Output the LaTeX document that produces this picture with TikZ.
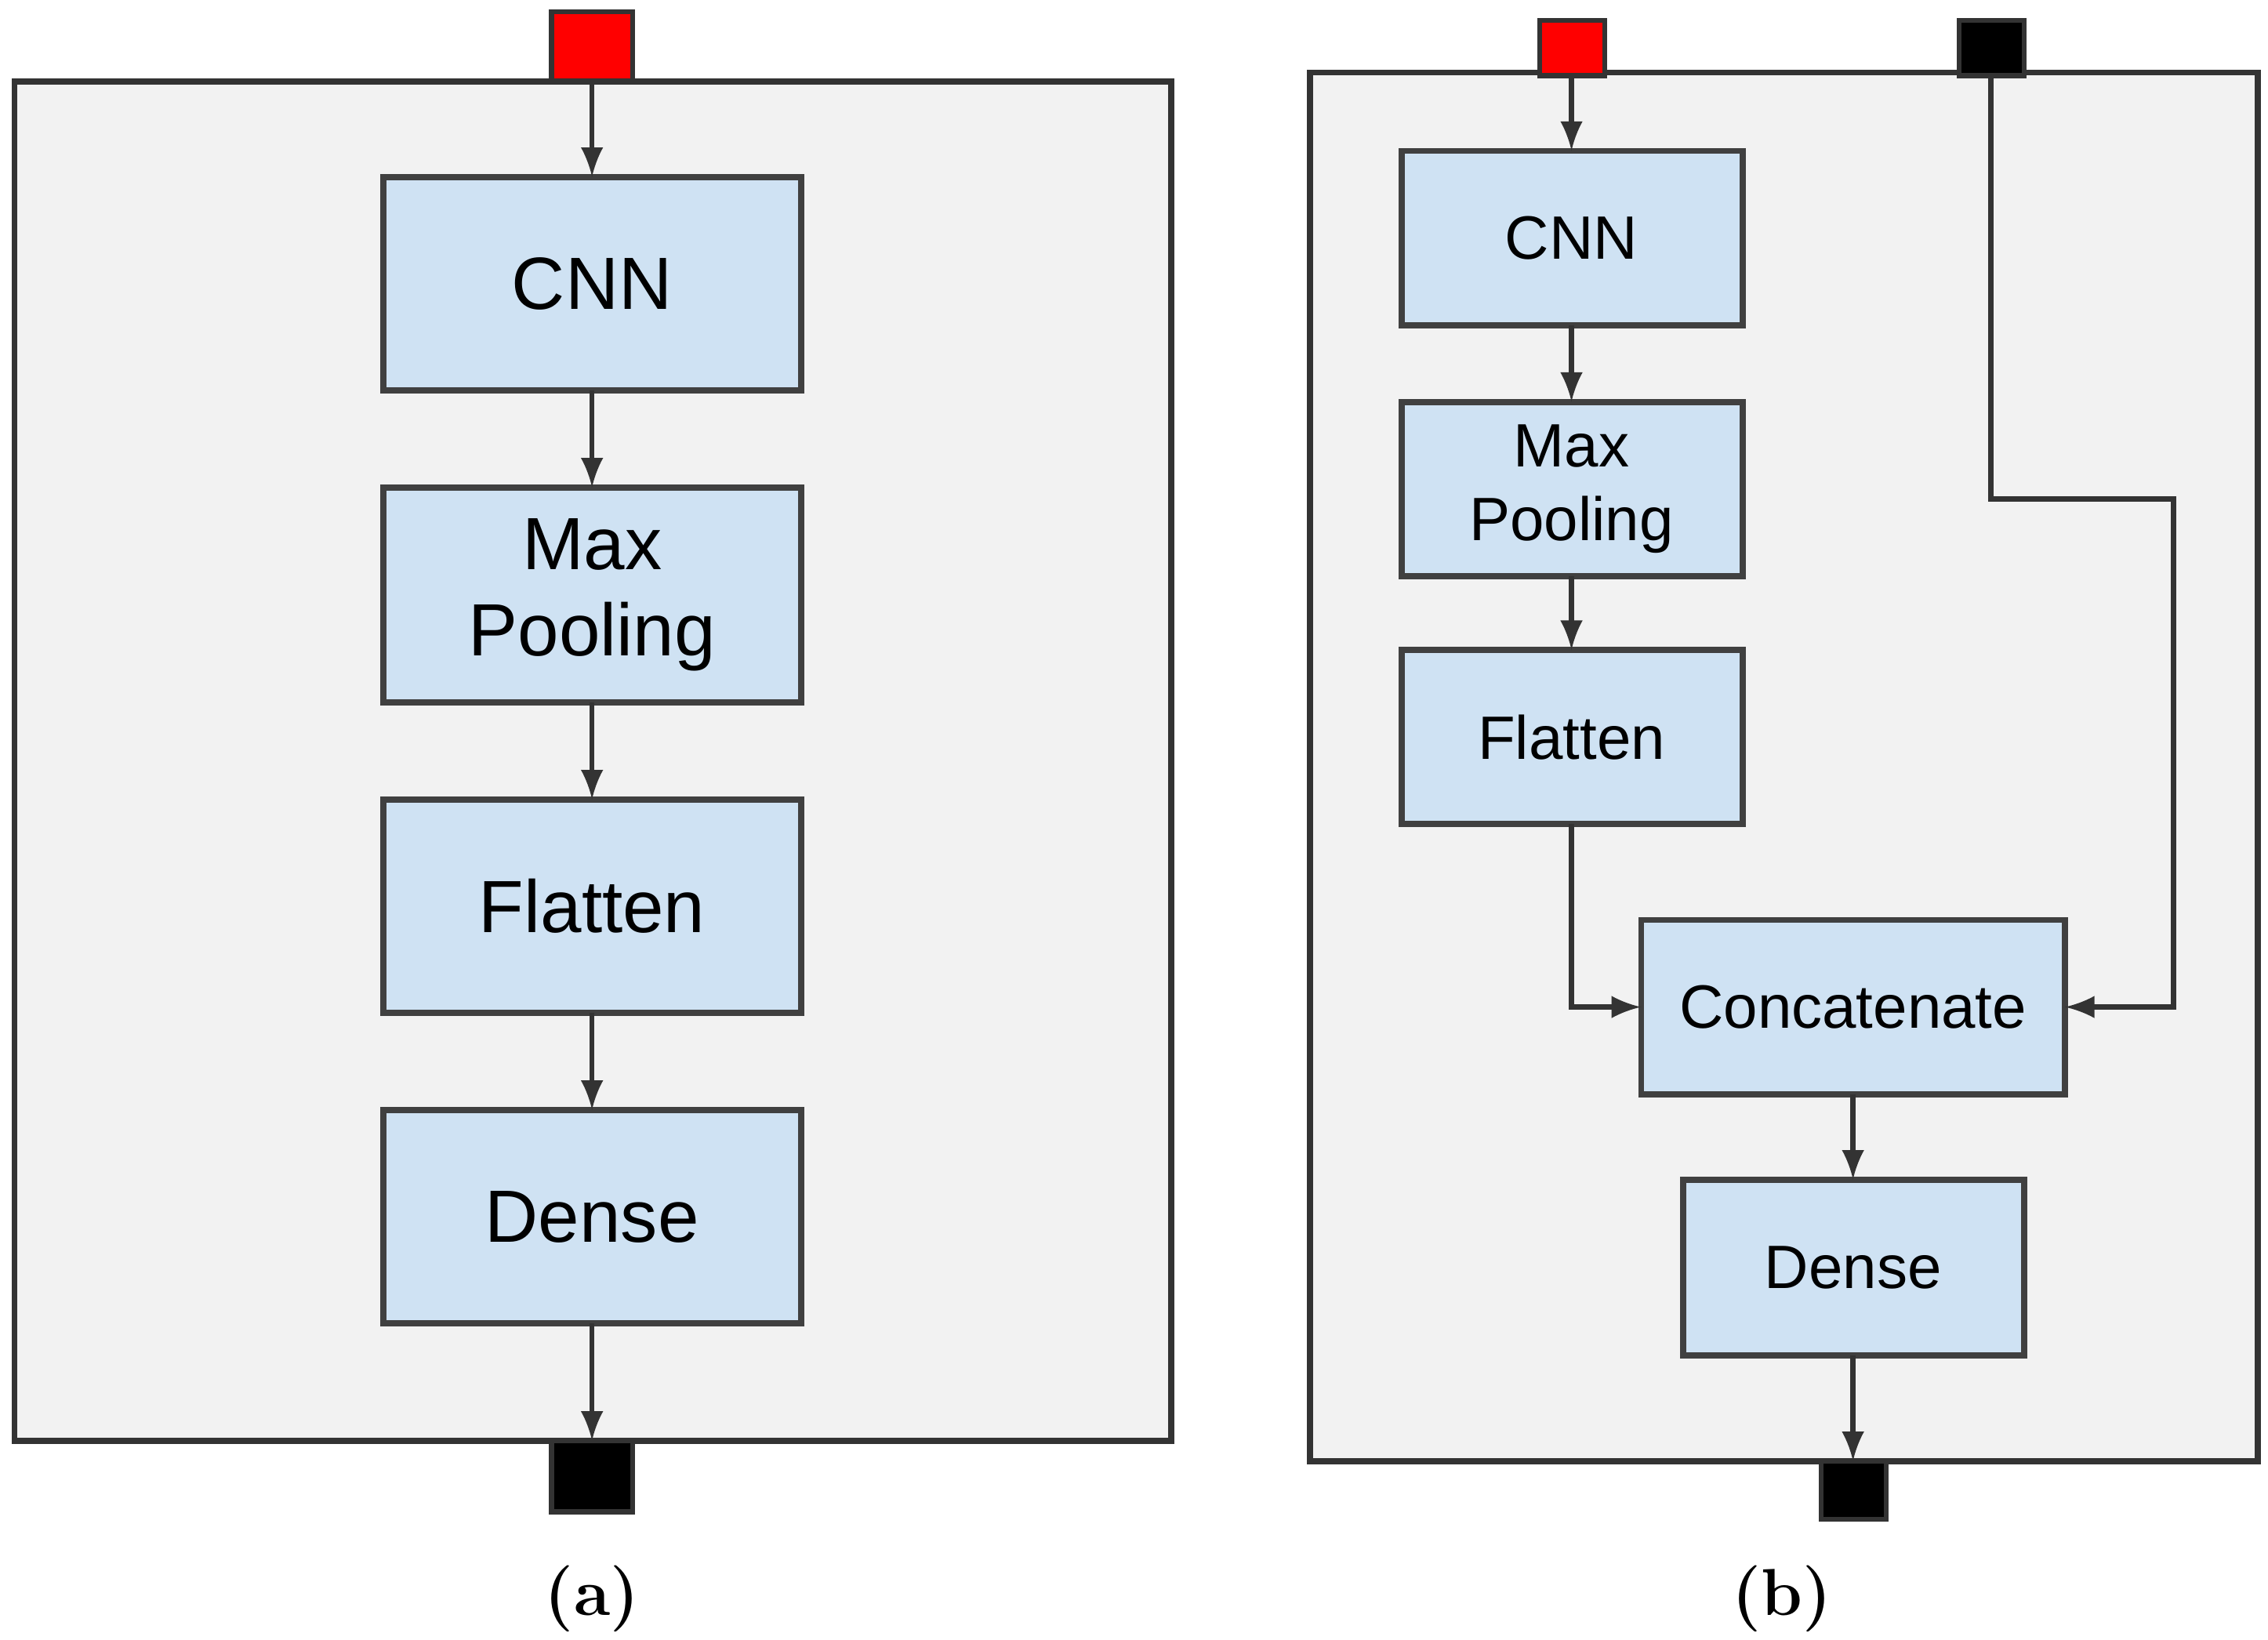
\documentclass[tikz,border=0pt]{standalone}
\usepackage{fontspec}
\newfontfamily\sans{Liberation Sans}
\definecolor{boxblue}{RGB}{207,226,243}
\begin{document}
\begin{tikzpicture}[x=0.01cm,y=-0.01cm,
 panel/.style={draw=black!80,fill=black!5,line width=1.2pt},
 blk/.style={draw=black!75,fill=boxblue,line width=1.2pt},
 port/.style={draw=black!80,line width=1pt},
 arr/.style={-latex,line width=1pt,draw=black!80},
 lt/.style={font=\sans\fontsize{14.5}{17}\selectfont,align=center},
 rt/.style={font=\sans\fontsize{12}{14.5}\selectfont,align=center}]
\useasboundingbox (0,0) rectangle (1563,1130);
% left
\path[panel] (10,56) rectangle (807,993);
\draw[port,fill=red] (380,8) rectangle (436,56); \coordinate (lin) at (408,56);
\draw[port,fill=black] (380,993) rectangle (436,1042); \coordinate (lout) at (408,993);
\draw[blk] (264,122) rectangle (552,269); \node[lt] (a1) at (408,195.5) {CNN};
\draw[blk] (264,336) rectangle (552,484); \node[lt] (a2) at (408,410) {Max\\Pooling};
\draw[blk] (264,551) rectangle (552,698); \node[lt] (a3) at (408,624.5) {Flatten};
\draw[blk] (264,765) rectangle (552,912); \node[lt] (a4) at (408,838.5) {Dense};
\coordinate (a1t) at (408,122); \coordinate (a1b) at (408,269);
\coordinate (a2t) at (408,336); \coordinate (a2b) at (408,484);
\coordinate (a3t) at (408,551); \coordinate (a3b) at (408,698);
\coordinate (a4t) at (408,765); \coordinate (a4b) at (408,912);
\draw[arr] (lin) -- (a1t); \draw[arr] (a1b) -- (a2t); \draw[arr] (a2b) -- (a3t);
\draw[arr] (a3b) -- (a4t); \draw[arr] (a4b) -- (lout);
\node[font=\bfseries\fontsize{13}{15}\selectfont] (la) at (408,1102) {(a)};
% right
\path[panel] (903,50) rectangle (1556,1007);
\draw[port,fill=red] (1061,14) rectangle (1106,52); \coordinate (rin) at (1083,52);
\draw[port,fill=black] (1350,14) rectangle (1395,52); \coordinate (rin2) at (1372,52);
\draw[port,fill=black] (1255,1007) rectangle (1300,1047); \coordinate (rout) at (1277,1007);
\draw[blk] (966,104) rectangle (1201,224); \node[rt] (b1) at (1083,164) {CNN};
\draw[blk] (966,277) rectangle (1201,397); \node[rt] (b2) at (1083,337) {Max\\Pooling};
\draw[blk] (966,448) rectangle (1201,568); \node[rt] (b3) at (1083,508) {Flatten};
\draw[blk] (1131,634) rectangle (1423,754); \node[rt] (b4) at (1277,694) {Concatenate};
\draw[blk] (1160,813) rectangle (1395,934); \node[rt] (b5) at (1277,873.5) {Dense};
\draw[arr] (rin) -- (1083,104); \draw[arr] (1083,224) -- (1083,277);
\draw[arr] (1083,397) -- (1083,448);
\draw[arr] (1083,568) -- (1083,694) -- (1131,694);
\draw[arr] (rin2) -- (1372,344) -- (1498,344) -- (1498,694) -- (1423,694);
\draw[arr] (1277,754) -- (1277,813); \draw[arr] (1277,934) -- (rout);
\node[font=\bfseries\fontsize{13}{15}\selectfont] (lb) at (1228,1102) {(b)};
\end{tikzpicture}
\end{document}
